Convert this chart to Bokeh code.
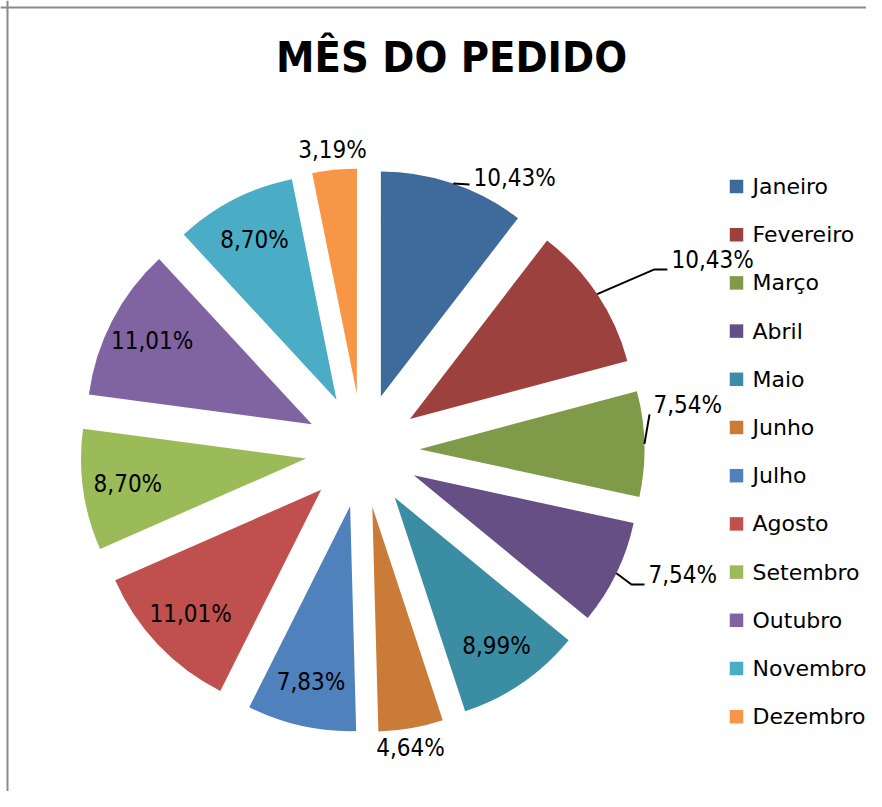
import math
from bokeh.plotting import figure
from bokeh.models import Range1d, ColumnDataSource, Span
from bokeh.core.properties import value
from bokeh.embed import file_html
from bokeh.resources import INLINE

# ---------------- data ----------------
months = ["Janeiro", "Fevereiro", "Março", "Abril", "Maio", "Junho",
          "Julho", "Agosto", "Setembro", "Outubro", "Novembro", "Dezembro"]
percents = [10.43, 10.43, 7.54, 7.54, 8.99, 4.64, 7.83, 11.01, 8.70, 11.01, 8.70, 3.19]
colors = ["#3F6A9C", "#9D413E", "#7F9A48", "#664F84", "#3B8DA3", "#CB7B38",
          "#4F81BD", "#C0504D", "#9BBB59", "#8064A2", "#4BACC6", "#F79646"]
title_text = "MÊS DO PEDIDO"

# ---------------- layout (page pixels) ----------------
W, H = 866, 791
CX, CY = 362.0, 450.0      # pie centre
R = 225.0                  # slice radius
EXPLODE = 57.0             # explosion offset
INSIDE_FRAC = 0.8
# outside labels: index -> (angle clockwise from north, distance from centre, align, leader)
OUTSIDE = {0: (22.2, 293.8, "left", "straight"),
           1: (58.4, 362.7, "left", "elbow"),
           2: (81.2, 294.5, "left", "straight"),
           3: (113.6, 312.1, "left", "elbow"),
           5: (170.85, 301.8, "center", None),
           11: (354.3, 301.5, "center", None)}
LEADER_DY = {0: 6}
LEG_X, LEG_Y0, LEG_DY, LEG_SQ = 736.0, 186.0, 48.2, 13.5

LABEL_FONT = "'DejaVu Sans Condensed', 'Liberation Sans Narrow', 'Roboto Condensed', Roboto"
LEGEND_FONT = "DejaVu Sans"


def Y(py):
    return -py


p = figure(width=W, height=H, output_backend="svg", toolbar_location=None,
           x_range=Range1d(0, W), y_range=Range1d(-H, 0),
           min_border=0, x_axis_location=None, y_axis_location=None)
p.xgrid.visible = False
p.ygrid.visible = False
p.outline_line_color = None
p.background_fill_color = "white"
p.border_fill_color = "white"

# frame (top and left edges of the chart area)
p.add_layout(Span(location=7, dimension="height", line_color="#8A8A8A", line_width=2))
p.add_layout(Span(location=-7, dimension="width", line_color="#8A8A8A", line_width=2))

# ---------------- slices ----------------
xs, ys, sa, ea, mids = [], [], [], [], []
cum = 0.0
for v in percents:
    t1 = cum / 100.0 * 360.0
    t2 = (cum + v) / 100.0 * 360.0
    mid = math.radians((t1 + t2) / 2)
    ex = CX + EXPLODE * math.sin(mid)
    ey = CY - EXPLODE * math.cos(mid)
    xs.append(ex)
    ys.append(Y(ey))
    sa.append(math.radians(90 - t2))
    ea.append(math.radians(90 - t1))
    mids.append(mid)
    cum += v

src = ColumnDataSource(dict(x=xs, y=ys, sa=sa, ea=ea, color=colors))
p.wedge(x="x", y="y", radius=R, start_angle="sa", end_angle="ea",
        fill_color="color", line_color=None, source=src)

# ---------------- data labels ----------------
texts = [("%.2f%%" % v).replace(".", ",") for v in percents]
in_x, in_y, in_t = [], [], []
out_x, out_y, out_t, out_a = [], [], [], []
lead_xs, lead_ys = [], []
for i, t in enumerate(texts):
    mid = mids[i]
    ex, ey = xs[i], -ys[i]
    if i in OUTSIDE:
        ang, dist, align, leader = OUTSIDE[i]
        a = math.radians(ang)
        lx = CX + dist * math.sin(a)
        ly = CY - dist * math.cos(a)
        out_x.append(lx)
        out_y.append(Y(ly))
        out_t.append(t)
        out_a.append(align)
        if leader:
            sx = ex + R * math.sin(mid)
            sy = ey - R * math.cos(mid)
            endx, endy = lx - 4, ly + LEADER_DY.get(i, 9)
            if leader == "elbow":
                px_ = [sx, endx - 13, endx]
                py_ = [sy, endy, endy]
            else:
                px_ = [sx, endx]
                py_ = [sy, endy]
            lead_xs.append(px_)
            lead_ys.append([Y(q) for q in py_])
    else:
        in_x.append(ex + INSIDE_FRAC * R * math.sin(mid))
        in_y.append(Y(ey - INSIDE_FRAC * R * math.cos(mid)))
        in_t.append(t)

p.multi_line(xs=lead_xs, ys=lead_ys, line_color="black", line_width=2)

p.text(x=in_x, y=in_y, text=in_t, text_align="center", text_baseline="middle",
       text_font=value(LABEL_FONT), text_font_size="24px", text_color="black")
p.text(x="x", y="y", text="t", text_align="a", text_baseline="middle",
       text_font=value(LABEL_FONT), text_font_size="24px", text_color="black",
       source=ColumnDataSource(dict(x=out_x, y=out_y, t=out_t, a=out_a)))

# ---------------- title ----------------
p.text(x=[451], y=[Y(56)], text=[title_text], text_align="center", text_baseline="middle",
       text_font=value(LABEL_FONT), text_font_style="bold", text_font_size="43px",
       text_color="black")

# ---------------- legend ----------------
leg_y = [Y(LEG_Y0 + i * LEG_DY) for i in range(len(months))]
p.rect(x=[LEG_X] * len(months), y=leg_y, width=LEG_SQ, height=LEG_SQ,
       fill_color=colors, line_color=None)
p.text(x=[LEG_X + 16] * len(months), y=leg_y, text=months, text_align="left",
       text_baseline="middle", text_font=value(LEGEND_FONT), text_font_size="22px",
       text_color="black")

open("out.html", "w").write(file_html(p, INLINE))
